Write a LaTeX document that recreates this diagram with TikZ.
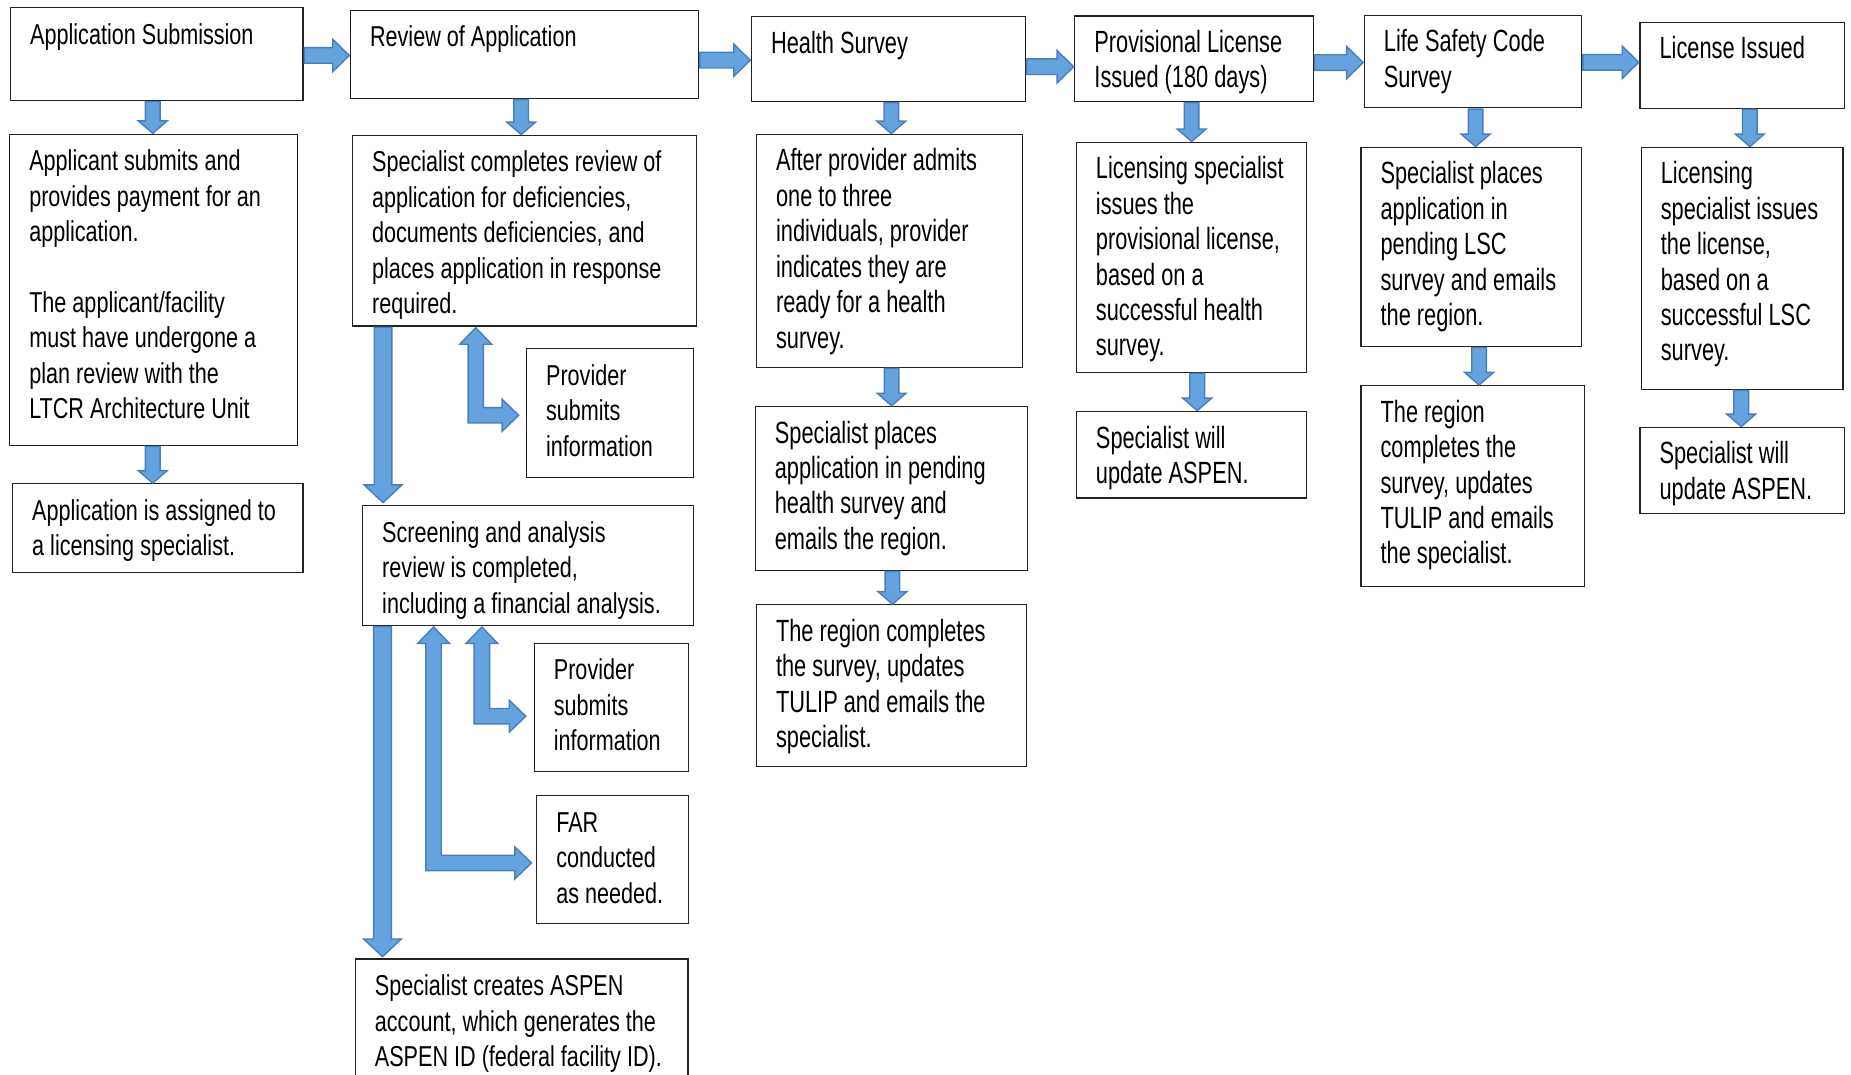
\documentclass[tikz,border=0pt]{standalone}
\usepackage{fontspec}
\setmainfont{Liberation Sans}
\newfontfamily\nfont{Liberation Sans}[FakeStretch=0.75]
\newfontfamily\wfont{Liberation Sans}[FakeStretch=0.71]
\usetikzlibrary{calc}
\definecolor{arrfill}{HTML}{64A3DE}
\definecolor{arrline}{HTML}{4A7EBB}
\definecolor{boxline}{HTML}{222222}
\tikzset{
  box/.style={draw=boxline, line width=0.5pt, fill=white, anchor=north west,
    inner xsep=8.3pt, inner ysep=0pt, outer sep=0pt},
  blockarrow/.style={fill=arrfill, draw=arrline, line width=0.6pt, line join=miter},
}
\newcommand\NF{\nfont\fontsize{12.2}{15}\selectfont}
\newcommand\WF{\wfont\fontsize{13}{15}\selectfont}
% box: font, name, x1, y1, x2, y2, lines
\newcommand\bx[7]{%
  \pgfmathsetmacro\bxw{(#5-#3)*0.5-16.6}%
  \pgfmathsetmacro\bxh{(#6-#4)*0.5}%
  \node[box] (#2) at (#3,#4) {\parbox[c][\bxh pt][t]{\bxw pt}{#1\vspace*{5pt}\begin{tabular}[t]{@{}l@{}}#7\end{tabular}}};%
}
% down arrow: from node, to node, x(px), shaft half, head half, head length, tip gap
\newcommand\dnarrow[7]{%
  \path[blockarrow] let \p1=(#1.south), \p2=(#2.north), \p3=(#3,0) in
   (\x3-#4,\y1-0.5pt) -- (\x3-#4,\y2+#6+#7) -- (\x3-#5,\y2+#6+#7) -- (\x3,\y2+#7)
   -- (\x3+#5,\y2+#6+#7) -- (\x3+#4,\y2+#6+#7) -- (\x3+#4,\y1-0.5pt) -- cycle;}
% right arrow: from node, to node, y(px)
\newcommand\rtarrow[3]{%
  \path[blockarrow] let \p1=(#1.east), \p2=(#2.west), \p3=(0,#3) in
   (\x1+0.5pt,\y3+3.3pt) -- (\x2-7.5pt,\y3+3.3pt) -- (\x2-7.5pt,\y3+6.85pt) -- (\x2-0.5pt,\y3)
   -- (\x2-7.5pt,\y3-6.85pt) -- (\x2-7.5pt,\y3-3.3pt) -- (\x1+0.5pt,\y3-3.3pt) -- cycle;}
\newcommand\sdn[3]{\dnarrow{#1}{#2}{#3}{3.1pt}{6.1pt}{5.3pt}{0.3pt}}
% bent double arrow: node above, node right, x(px), y(px), right gap
\def\bs{3.25pt}\def\bh{6.75pt}\def\bl{7pt}
\newcommand\bentarrow[5]{%
  \path[blockarrow] let \p1=(#1.south), \p2=(#2.west), \p3=(#3,#4) in
   (\x3,\y1-0.7pt) -- (\x3+\bh,\y1-0.7pt-\bl) -- (\x3+\bs,\y1-0.7pt-\bl) -- (\x3+\bs,\y3+\bs)
   -- (\x2-#5-\bl,\y3+\bs) -- (\x2-#5-\bl,\y3+\bh) -- (\x2-#5,\y3) -- (\x2-#5-\bl,\y3-\bh)
   -- (\x2-#5-\bl,\y3-\bs) -- (\x3-\bs,\y3-\bs) -- (\x3-\bs,\y1-0.7pt-\bl) -- (\x3-\bh,\y1-0.7pt-\bl) -- cycle;}

\begin{document}
\begin{tikzpicture}[x=0.5pt,y=-0.5pt]
\useasboundingbox (0,0) rectangle (1568,910);
\fill[white] (0,0) rectangle (1568,910);
\clip (0,0) rectangle (1568,910);

% column 1
\bx{\NF}{a1}{9}{6.5}{256.7}{85}{Application Submission}
\bx{\NF}{a2}{8.2}{113.6}{252.2}{377.2}{Applicant submits and\\provides payment for an\\application.\\ \\The applicant/facility\\must have undergone a\\plan review with the\\LTCR Architecture Unit}
\bx{\NF}{a3}{10.7}{409.9}{256.7}{484.9}{Application is assigned to\\a licensing specialist.}

% column 2
\bx{\NF}{b1}{296.9}{8.8}{591.8}{83.4}{Review of Application}
\bx{\NF}{b2}{298.6}{114.6}{590.1}{276.2}{Specialist completes review of\\application for deficiencies,\\documents deficiencies, and\\places application in response\\required.}
\bx{\NF}{b3}{446}{295.4}{587.3}{404.4}{Provider\\submits\\information}
\bx{\NF}{b4}{307.2}{428.4}{587.3}{529.7}{Screening and analysis\\review is completed,\\including a financial analysis.}
\bx{\NF}{b5}{452.6}{545}{583.4}{653.7}{Provider\\submits\\information}
\bx{\NF}{b6}{454.6}{674}{583.4}{782}{FAR\\conducted\\as needed.}
\bx{\NF}{b7}{301}{812.4}{582.8}{960}{Specialist creates ASPEN\\account, which generates the\\ASPEN ID (federal facility ID).}

% column 3
\bx{\WF}{c1}{636.6}{13.9}{868.7}{86}{Health Survey}
\bx{\WF}{c2}{640.8}{113.8}{866.4}{311}{After provider admits\\one to three\\individuals, provider\\indicates they are\\ready for a health\\survey.}
\bx{\WF}{c3}{639.8}{344.3}{870.3}{483}{Specialist places\\application in pending\\health survey and\\emails the region.}
\bx{\WF}{c4}{640.8}{512.4}{869.7}{649}{The region completes\\the survey, updates\\TULIP and emails the\\specialist.}

% column 4
\bx{\WF}{d1}{910.5}{13.5}{1112.5}{86}{Provisional License\\Issued (180 days)}
\bx{\WF}{d2}{911.8}{120.5}{1107}{315.2}{Licensing specialist\\issues the\\provisional license,\\based on a\\successful health\\survey.}
\bx{\WF}{d3}{911.8}{348.5}{1107}{421.8}{Specialist will\\update ASPEN.}

% column 5
\bx{\WF}{e1}{1155.7}{13}{1339.9}{91.4}{Life Safety Code\\Survey}
\bx{\WF}{e2}{1152.9}{124.8}{1339.9}{293.4}{Specialist places\\application in\\pending LSC\\survey and emails\\the region.}
\bx{\WF}{e3}{1152.9}{326.7}{1342.4}{496.9}{The region\\completes the\\survey, updates\\TULIP and emails\\the specialist.}

% column 6
\bx{\WF}{f1}{1389.2}{18.8}{1562.6}{91.7}{License Issued}
\bx{\WF}{f2}{1390.3}{124.8}{1561.2}{329.6}{Licensing\\specialist issues\\the license,\\based on a\\successful LSC\\survey.}
\bx{\WF}{f3}{1389.2}{362}{1562.6}{435.3}{Specialist will\\update ASPEN.}

% horizontal arrows
\rtarrow{a1}{b1}{47}
\rtarrow{b1}{c1}{51}
\rtarrow{c1}{d1}{56.5}
\rtarrow{d1}{e1}{53}
\rtarrow{e1}{f1}{52.8}

% down arrows
\sdn{a1}{a2}{129.4}
\sdn{a2}{a3}{129.4}
\sdn{b1}{b2}{441.5}
\sdn{c1}{c2}{755}
\sdn{c2}{c3}{755.3}
\sdn{c3}{c4}{756}
\sdn{d1}{d2}{1009.4}
\sdn{d2}{d3}{1014.2}
\sdn{e1}{e2}{1250}
\sdn{e2}{e3}{1252.9}
\sdn{f1}{f2}{1482.3}
\sdn{f2}{f3}{1475}

% long down arrows in column 2
\dnarrow{b2}{b4}{324.5}{3.75pt}{8pt}{7.5pt}{1.3pt}
\dnarrow{b4}{b7}{324}{3.75pt}{8pt}{7.5pt}{1pt}

% bent double arrows
\bentarrow{b2}{b3}{403}{351.8}{3.3pt}
\bentarrow{b4}{b6}{367.3}{731}{2.2pt}
\bentarrow{b4}{b5}{408.2}{606.7}{3.6pt}
\end{tikzpicture}
\end{document}
